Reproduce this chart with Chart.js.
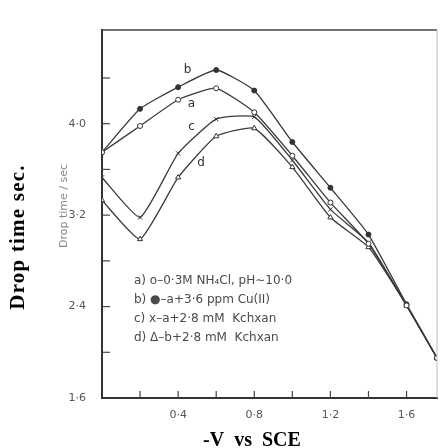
<!DOCTYPE html>
<html>
<head>
    <meta charset="UTF-8">
    <title>Drop time vs potential</title>
    <script src="https://cdn.jsdelivr.net/npm/chart.js"></script>
    <style>
        html, body {
            margin: 0;
            padding: 0;
            background: #fff;
        }
        #wrap {
            width: 444px;
            height: 448px;
        }
    </style>
</head>
<body>
    <div id="wrap"><canvas id="dropChart"></canvas></div>

    <script>
        // potential (-V vs SCE)
        const potentials = [0, 0.2, 0.4, 0.6, 0.8, 1.0, 1.2, 1.4, 1.6, 1.76];

        // drop time (sec) for each curve
        const seriesA = [3.75, 3.98, 4.21, 4.31, 4.10, 3.72, 3.31, 2.95, 2.41, 1.95];
        const seriesB = [3.75, 4.13, 4.32, 4.47, 4.29, 3.84, 3.44, 3.03, 2.42, 1.95];
        const seriesC = [3.53, 3.18, 3.74, 4.04, 4.06, 3.68, 3.25, 2.96, 2.41, 1.95];
        const seriesD = [3.33, 2.99, 3.53, 3.89, 3.96, 3.62, 3.18, 2.92, 2.41, 1.95];

        const legendLines = [
            'a) o\u20130\u00b73M NH\u2084Cl, pH\u223c10\u00b70',
            'b) \u25cf\u2013a+3\u00b76 ppm Cu(II)',
            'c) x\u2013a+2\u00b78 mM  Kchxan',
            'd) \u0394\u2013b+2\u00b78 mM  Kchxan'
        ];

        // tick positions and labelled ticks
        const xTicks = [0.2, 0.4, 0.6, 0.8, 1.0, 1.2, 1.4, 1.6];
        const xTickLabels = [0.4, 0.8, 1.2, 1.6];
        const yTicks = [2.0, 2.4, 2.8, 3.2, 3.6, 4.0, 4.4];
        const yTickLabels = [1.6, 2.4, 3.2, 4.0];

        // curve letters placed in data space
        const curveLetters = [
            { text: 'b', x: 0.45, y: 4.47 },
            { text: 'a', x: 0.47, y: 4.17 },
            { text: 'c', x: 0.47, y: 3.97 },
            { text: 'd', x: 0.52, y: 3.66 }
        ];

        function toPoints(ys) {
            return ys.map((y, i) => ({ x: potentials[i], y: y }));
        }

        function fmt(v) {
            return v.toFixed(1).replace('.', '\u00b7');
        }

        const lineColor = '#3a3a3a';

        const dataSets = [
            { label: 'a', data: toPoints(seriesA), pointStyle: 'circle', pointBackgroundColor: '#fff', pointRadius: 2.5 },
            { label: 'b', data: toPoints(seriesB), pointStyle: 'circle', pointBackgroundColor: '#333', pointRadius: 2.5 },
            { label: 'c', data: toPoints(seriesC), pointStyle: 'crossRot', pointBackgroundColor: '#333', pointRadius: 3 },
            { label: 'd', data: toPoints(seriesD), pointStyle: 'triangle', pointBackgroundColor: '#fff', pointRadius: 3 }
        ].map(ds => Object.assign({
            borderColor: lineColor,
            borderWidth: 1.3,
            pointBorderColor: '#333',
            pointBorderWidth: 1,
            tension: 0.15,
            fill: false
        }, ds));

        // extra drawing: inner ticks, frame, labels, notes
        const decorPlugin = {
            id: 'decor',
            afterDraw(chart) {
                const ctx = chart.ctx;
                const xs = chart.scales.x;
                const ys = chart.scales.y;
                const area = chart.chartArea;
                ctx.save();

                // top and right frame
                ctx.strokeStyle = '#444';
                ctx.lineWidth = 1.5;
                ctx.beginPath();
                ctx.moveTo(area.left, area.top);
                ctx.lineTo(area.right, area.top);
                ctx.stroke();
                ctx.strokeStyle = '#bbb';
                ctx.lineWidth = 1;
                ctx.beginPath();
                ctx.moveTo(area.right, area.top);
                ctx.lineTo(area.right, area.bottom);
                ctx.stroke();

                // inner ticks
                ctx.strokeStyle = '#444';
                ctx.lineWidth = 1.2;
                yTicks.forEach(v => {
                    const py = ys.getPixelForValue(v);
                    ctx.beginPath();
                    ctx.moveTo(area.left, py);
                    ctx.lineTo(area.left + 8, py);
                    ctx.stroke();
                });
                xTicks.forEach(v => {
                    const px = xs.getPixelForValue(v);
                    ctx.beginPath();
                    ctx.moveTo(px, area.bottom);
                    ctx.lineTo(px, area.bottom - 7);
                    ctx.stroke();
                });

                // curve letters
                ctx.fillStyle = '#333';
                ctx.font = '12px "DejaVu Sans"';
                ctx.textAlign = 'center';
                ctx.textBaseline = 'middle';
                curveLetters.forEach(l => {
                    ctx.fillText(l.text, xs.getPixelForValue(l.x), ys.getPixelForValue(l.y));
                });

                // notes block
                ctx.fillStyle = '#4a4a4a';
                ctx.font = '12px "DejaVu Sans"';
                ctx.textAlign = 'left';
                legendLines.forEach((t, i) => {
                    ctx.fillText(t, 134, 281 + i * 19);
                });

                // inner axis title
                ctx.save();
                ctx.translate(64, 206);
                ctx.rotate(-Math.PI / 2);
                ctx.fillStyle = '#888';
                ctx.font = '11px "DejaVu Sans"';
                ctx.textAlign = 'center';
                ctx.fillText('Drop time / sec', 0, 0);
                ctx.restore();

                // outer axis titles
                ctx.save();
                ctx.translate(19, 237);
                ctx.rotate(-Math.PI / 2);
                ctx.fillStyle = '#000';
                ctx.font = 'bold 21px "Liberation Serif"';
                ctx.letterSpacing = '1.2px';
                ctx.textAlign = 'center';
                ctx.fillText('Drop time sec.', 0, 0);
                ctx.restore();

                ctx.fillStyle = '#000';
                ctx.font = 'bold 20px "Liberation Serif"';
                ctx.textAlign = 'center';
                ctx.textBaseline = 'alphabetic';
                ctx.fillText('-V  vs  SCE', 252, 446);

                ctx.restore();
            }
        };

        const dropChart = new Chart(document.getElementById('dropChart'), {
            type: 'line',
            data: { datasets: dataSets },
            options: {
                responsive: true,
                maintainAspectRatio: false,
                animation: false,
                layout: {
                    padding: { top: 30, right: 7, left: 0, bottom: 0 }
                },
                plugins: {
                    legend: { display: false },
                    tooltip: { enabled: false }
                },
                scales: {
                    x: {
                        type: 'linear',
                        min: 0,
                        max: 1.76,
                        afterBuildTicks: s => { s.ticks = xTickLabels.map(v => ({ value: v })); },
                        afterFit: s => { s.height = 50; },
                        border: { color: '#333', width: 2 },
                        grid: { display: false },
                        ticks: {
                            padding: 3,
                            color: '#555',
                            font: { family: 'DejaVu Sans', size: 11 },
                            autoSkip: false,
                            maxRotation: 0,
                            callback: value => fmt(value)
                        }
                    },
                    y: {
                        min: 1.6,
                        max: 4.82,
                        afterBuildTicks: s => { s.ticks = yTickLabels.map(v => ({ value: v })); },
                        afterFit: s => { s.width = 102; },
                        border: { color: '#333', width: 2 },
                        grid: { display: false },
                        ticks: {
                            padding: 8,
                            color: '#555',
                            font: { family: 'DejaVu Sans', size: 11 },
                            autoSkip: false,
                            callback: value => fmt(value)
                        }
                    }
                }
            },
            plugins: [decorPlugin]
        });
    </script>
</body>
</html>
